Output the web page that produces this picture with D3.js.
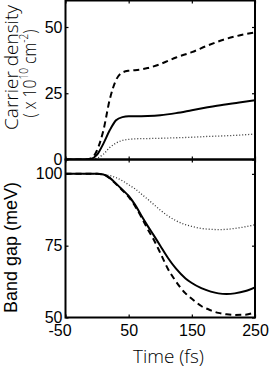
<!DOCTYPE html>
<html>
<head>
<meta charset="utf-8">
<script src="https://cdn.jsdelivr.net/npm/d3@7"></script>
<style>
html, body { margin: 0; padding: 0; background: #fff; }
svg { display: block; }
</style>
</head>
<body>
<svg id="chart" width="269" height="368"></svg>
<script>
// ---- data ----
const densityTime = [-50, -20, -10, 0, 10, 20, 30, 40, 50, 60, 80, 100, 125, 150, 175, 200, 225, 250];
const densityDashed = [0, 0, 0.4, 3.5, 11, 22.6, 30, 32.8, 33.5, 33.7, 34.5, 36, 38.5, 40.5, 43, 45.2, 46.8, 48];
const densitySolid  = [0, 0, 0.2, 1.8, 6, 11, 14.8, 16, 16.3, 16.3, 16.4, 16.7, 17.5, 18.6, 19.7, 20.7, 21.5, 22.4];
const densityDotted = [0, 0, 0, 0.5, 2, 4.5, 6.2, 7.2, 7.6, 7.8, 7.9, 8.0, 8.2, 8.4, 8.7, 8.9, 9.2, 9.6];

const gapTime = [-50, 0, 10, 20, 30, 40, 50, 60, 70, 80, 90, 100, 112, 125, 140, 150, 165, 180, 192, 205, 218, 235, 250];
const gapSolid  = [100, 100, 99.8, 98.6, 96.6, 94.5, 92.3, 89.3, 85.5, 81.9, 78.5, 75, 70.8, 67, 63.6, 62, 60.2, 59, 58.4, 58.2, 58.4, 59.2, 60.5];
const gapDashed = [100, 100, 99.8, 98.5, 96.5, 94.3, 92, 88.8, 85, 80.8, 77, 72.5, 67, 62.5, 58.4, 56.5, 54, 52.5, 51.6, 51.1, 50.9, 51, 51.9];
const gapDotted = [100, 100, 99.8, 99.4, 98.7, 97.6, 96.2, 94.8, 93, 91.2, 89.3, 87.4, 85.4, 83.7, 82.3, 81.7, 81, 80.7, 80.6, 80.7, 81, 81.6, 82.3];

const xTicks = [-50, 50, 150, 250];
const densityTicks = [0, 25, 50];
const gapTicks = [50, 75, 100];

const xLabel = "Time (fs)";
const densityLabel1 = "Carrier density";
const gapLabel = "Band gap (meV)";

// ---- layout ----
const svg = d3.select("#chart");
const left = 65.5, right = 255;
const x = d3.scaleLinear().domain([-50, 250]).range([left, right]);
const y1 = d3.scaleLinear().domain([0, 60]).range([159.5, 0.5]);
const y2 = d3.scaleLinear().domain([50, 105]).range([317.5, 159.5]);

const tickFont = "'Liberation Sans', Arial, sans-serif";
const labelFont = "'Open Sans', 'Noto Sans', sans-serif";
const fmt = d => String(d);

svg.append("defs").append("clipPath").attr("id", "clipTop")
  .append("rect").attr("x", left).attr("y", y1.range()[1]).attr("width", right - left).attr("height", y1.range()[0] - y1.range()[1]);
svg.select("defs").append("clipPath").attr("id", "clipBot")
  .append("rect").attr("x", left).attr("y", y2.range()[1]).attr("width", right - left).attr("height", y2.range()[0] - y2.range()[1]);

function styleAxis(g, showLabels) {
  g.select(".domain").remove();
  g.selectAll(".tick line").attr("stroke", "#000").attr("stroke-width", 1.2);
  g.selectAll(".tick text").attr("font-family", tickFont).attr("font-size", 16).attr("fill", "#000");
  if (!showLabels) g.selectAll(".tick text").remove();
}

function panel(y, ticks, clipId, series, showX) {
  const [yb, yt] = y.range();
  svg.append("g").attr("transform", `translate(${left},0)`)
    .call(d3.axisLeft(y).tickValues(ticks).tickSize(-3).tickPadding(3).tickFormat(fmt))
    .call(g => styleAxis(g, true));
  svg.append("g").attr("transform", `translate(${right},0)`)
    .call(d3.axisRight(y).tickValues(ticks).tickSize(-3))
    .call(g => styleAxis(g, false));
  svg.append("g").attr("transform", `translate(0,${yt})`)
    .call(d3.axisTop(x).tickValues(xTicks).tickSize(-3))
    .call(g => styleAxis(g, false));
  const bx = svg.append("g").attr("transform", `translate(0,${yb})`)
    .call(d3.axisBottom(x).tickValues(xTicks).tickSize(-3).tickPadding(7).tickFormat(fmt))
    .call(g => styleAxis(g, showX));
  if (showX) {
    bx.selectAll(".tick text").attr("dy", "0.71em");
    bx.selectAll(".tick text").filter(d => d === -50).attr("dx", -6);
  }

  const gLines = svg.append("g").attr("clip-path", `url(#${clipId})`);
  series.forEach(s => {
    const line = d3.line().x((d, i) => x(s.t[i])).y(d => y(d)).curve(d3.curveMonotoneX);
    gLines.append("path").attr("d", line(s.v)).attr("fill", "none").attr("stroke", s.c)
      .attr("stroke-width", s.w).attr("stroke-dasharray", s.dash);
  });

  svg.append("rect").attr("x", left).attr("y", yt).attr("width", right - left).attr("height", yb - yt)
    .attr("fill", "none").attr("stroke", "#000").attr("stroke-width", 2);
}

panel(y1, densityTicks, "clipTop", [
  { t: densityTime, v: densityDotted, w: 1.3, dash: "1,2", c: "#333" },
  { t: densityTime, v: densitySolid, w: 2, dash: null, c: "#000" },
  { t: densityTime, v: densityDashed, w: 2, dash: "6,4", c: "#000" }
], false);

panel(y2, gapTicks, "clipBot", [
  { t: gapTime, v: gapDotted, w: 1.3, dash: "1,2", c: "#333" },
  { t: gapTime, v: gapSolid, w: 2, dash: null, c: "#000" },
  { t: gapTime, v: gapDashed, w: 2, dash: "6,4", c: "#000" }
], true);

// labels
svg.append("text").attr("x", 168.5).attr("y", 363).attr("text-anchor", "middle")
  .attr("font-family", labelFont).attr("font-weight", 300).attr("font-size", 19)
  .attr("textLength", 71).attr("lengthAdjust", "spacingAndGlyphs").text(xLabel);

svg.append("text").attr("transform", "translate(17.5,67.5) rotate(-90)").attr("text-anchor", "middle")
  .attr("font-family", labelFont).attr("font-weight", 300).attr("font-size", 18.5)
  .attr("textLength", 125).attr("lengthAdjust", "spacingAndGlyphs").text(densityLabel1);

const l2 = svg.append("text").attr("transform", "translate(36,73.5) rotate(-90)").attr("text-anchor", "middle")
  .attr("font-family", labelFont).attr("font-weight", 300).attr("font-size", 18.5)
  .attr("textLength", 88).attr("lengthAdjust", "spacingAndGlyphs");
l2.append("tspan").text("( x 10");
l2.append("tspan").attr("font-size", 12).attr("dy", -8).text("10");
l2.append("tspan").attr("dy", 8).text(" cm");
l2.append("tspan").attr("font-size", 12).attr("dy", -8).text("-2");
l2.append("tspan").attr("dy", 8).text(")");

svg.append("text").attr("transform", "translate(16.5,247.5) rotate(-90)").attr("text-anchor", "middle")
  .attr("font-family", tickFont).attr("font-size", 18)
  .attr("textLength", 131).attr("lengthAdjust", "spacingAndGlyphs").text(gapLabel);
</script>
</body>
</html>
